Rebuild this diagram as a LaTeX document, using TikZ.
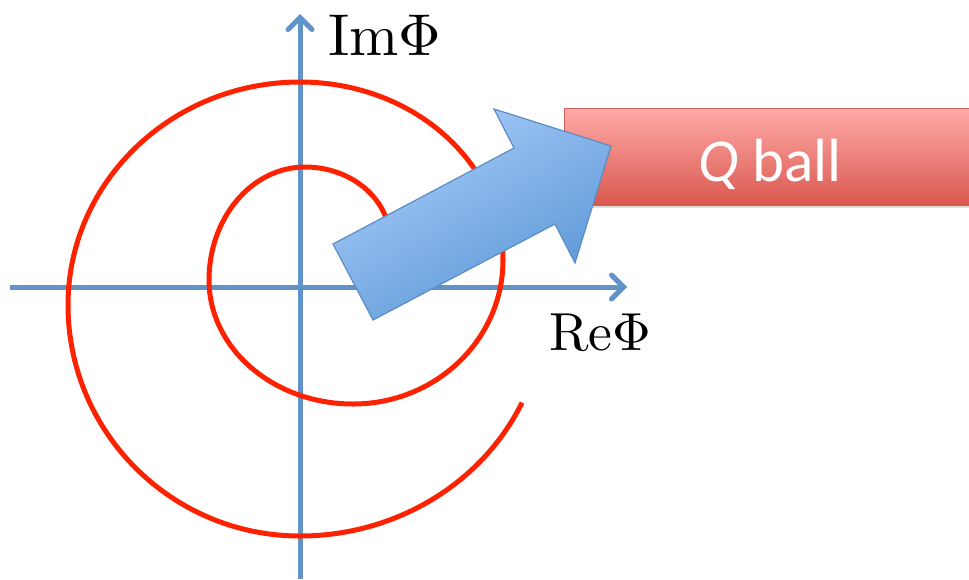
\documentclass[tikz,border=0pt]{standalone}
\usepackage{fontspec}
\newfontfamily\qfont{Carlito}
\usetikzlibrary{arrows.meta,shadows}
\definecolor{axisblue}{HTML}{6193C8}
\definecolor{spiralred}{HTML}{FF2200}
\definecolor{arrlight}{HTML}{A8CCF8}
\definecolor{arrdark}{HTML}{5A96D6}
\definecolor{arredge}{HTML}{5B8DC5}
\definecolor{boxtop}{HTML}{FFAAA8}
\definecolor{boxbot}{HTML}{D9584F}
\definecolor{boxedge}{HTML}{C9625C}
\tikzset{
  axis/.style={draw=axisblue, line width=5pt, -{Straight Barb[length=12pt,width=24pt,line cap=round]}},
  spiral/.style={draw=spiralred, line width=5pt},
  bigarrow/.style={draw=arredge, line width=1.2pt, top color=arrlight, bottom color=arrdark, shading angle=30},
  qbox/.style={draw=boxedge, line width=1pt, top color=boxtop, bottom color=boxbot,
     drop shadow={shadow xshift=0pt, shadow yshift=-3pt, opacity=0.25}},
  lab/.style={inner sep=0pt, anchor=base west}
}
\begin{document}
\begin{tikzpicture}[x=1pt,y=-1pt]
\useasboundingbox (0,0) rectangle (969,579);
% axes
\coordinate (hs) at (10,287);
\coordinate (he) at (627,287);
\coordinate (vs) at (300,579);
\coordinate (ve) at (300,14);
\draw[axis] (hs) -- (he);
\draw[axis] (vs) -- (ve);
% labels
\node[lab, scale=5.9] (im) at (327,55) {$\mathrm{Im}\Phi$};
\node[lab, scale=5.36] (re) at (548,350) {$\mathrm{Re}\Phi$};
% spiral (quarter-ellipse pieces)
\coordinate (sp0) at (368,310);
\draw[spiral] (sp0)
  arc[start angle=270, end angle=360, x radius=22pt,  y radius=70pt]
  arc[start angle=0,   end angle=90,  x radius=85pt,  y radius=73pt]
  arc[start angle=90,  end angle=180, x radius=96pt,  y radius=113pt]
  arc[start angle=180, end angle=270, x radius=144pt, y radius=124pt]
  arc[start angle=270, end angle=360, x radius=150pt, y radius=144pt]
  arc[start angle=0,   end angle=90,  x radius=203pt, y radius=178pt]
  arc[start angle=90,  end angle=180, x radius=232pt, y radius=223pt]
  arc[start angle=180, end angle=270, x radius=232pt, y radius=231pt]
  arc[start angle=270, end angle=335, x radius=245pt, y radius=231pt];
% Q ball box
\path[qbox] (564,108) rectangle (985,205);
\node[inner sep=0pt, anchor=base, text=white] (qball) at (770,181) {\qfont\fontsize{61}{63}\selectfont\itshape Q\upshape\ ball};
% big arrow
\path[bigarrow] (373,320) -- (333,244) -- (514,148) -- (494,109) -- (611,146) -- (575,263) -- (555,224) -- cycle;
\end{tikzpicture}
\end{document}
